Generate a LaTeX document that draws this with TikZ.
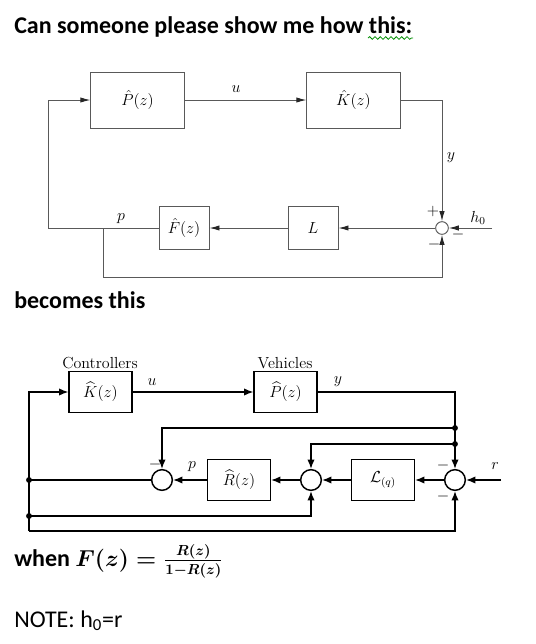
\documentclass[tikz,border=0pt]{standalone}
\usepackage{fontspec}
\newfontfamily\wordfont{Carlito}
\usepackage{amsmath,amssymb}
\usepackage{tikz}
\usetikzlibrary{arrows.meta}
\usetikzlibrary{decorations.pathmorphing}

\begin{document}
\begin{tikzpicture}[x=0.75pt,y=-0.75pt,
  old line/.style={draw=black!65,line width=0.7pt},
  old arrow/.style={old line,-{Latex[length=7.5pt,width=4pt,color=black!85]}},
  old box/.style={old line,rectangle,inner sep=0pt,font=\fontsize{12}{14}\selectfont},
  new line/.style={draw=black,line width=1.1pt},
  new arrow/.style={new line,-{Latex[length=7pt,width=5.5pt]}},
  new box/.style={new line,rectangle,inner sep=0pt,minimum width=47pt,minimum height=31pt,font=\fontsize{12}{14}\selectfont},
  sumjunction/.style={circle,inner sep=0pt,fill=white},
  word/.style={font=\wordfont\fontsize{18}{21}\selectfont,anchor=base west,inner sep=0pt},
  lbl/.style={font=\fontsize{12}{14}\selectfont,inner sep=0pt}]
\useasboundingbox (0,0) rectangle (536,644);

% question
\node[word] (ask) at (14,33) {\bfseries Can someone please show me how this:};
\draw[green!55!black,line width=0.6pt,decorate,decoration={snake,amplitude=1pt,segment length=4pt}] (368,38) -- (413,38);

% old diagram
\node[old box,minimum width=70pt,minimum height=42pt] (P) at (137.5,100) {$\hat P(z)$};
\node[old box,minimum width=70pt,minimum height=42pt] (K) at (353.5,100) {$\hat K(z)$};
\node[old box,minimum width=37.5pt,minimum height=32pt] (F) at (184,228) {$\hat F(z)$};
\node[old box,minimum width=37.5pt,minimum height=32pt] (L) at (313,228) {$L$};
\node[sumjunction,old line,minimum size=9.5pt] (S) at (442,228) {};
\coordinate (hin) at (492,228);
\coordinate (pleft) at (48,228);
\coordinate (pbranch) at (103,228);
\coordinate (pbottom) at (103,277);

\draw[old arrow] (P) -- (K);
\draw[old arrow] (K.east) -| (S.north);
\draw[old arrow] (hin) -- (S.east);
\draw[old arrow] (S.west) -- (L.east);
\draw[old arrow] (L.west) -- (F.east);
\draw[old arrow] (F.west) -- (pleft) |- (P.west);
\draw[old arrow] (pbranch) |- (S.south |- pbottom) -- (S.south);

\node[lbl] (ulbl) at (236,89) {$u$};
\node[lbl] (ylbl) at (451,158) {$y$};
\node[lbl] (plbl) at (121,219) {$p$};
\node[lbl] (hlbl) at (478,218) {$h_0$};
\node[lbl] (plus) at (433,211) {$+$};
\node[lbl] (minA) at (458,234) {$-$};
\node[lbl] (minB) at (434,244) {$-$};

\node[word] (becomes) at (14,308) {\bfseries becomes this};

% new diagram
\node[lbl] (ctrl) at (100,363) {Controllers};
\node[lbl] (veh) at (285,363) {Vehicles};
\node[new box] (K2) at (100.5,392) {$\widehat K(z)$};
\node[new box] (P2) at (285.5,392) {$\widehat P(z)$};
\node[new box] (R2) at (239,480) {$\widehat R(z)$};
\node[new box] (Lq) at (383,480) {$\mathcal{L}_{(q)}$};
\node[sumjunction,new line,minimum size=15.5pt] (S1) at (162,480) {};
\node[sumjunction,new line,minimum size=15.5pt] (S2) at (311,480) {};
\node[sumjunction,new line,minimum size=15.5pt] (S3) at (455,480) {};
\coordinate (rin) at (501,480);
\coordinate (jA) at (29,480);
\coordinate (jB) at (29,516);
\coordinate (jC) at (455,428);
\coordinate (jD) at (455,444);
\coordinate (corner) at (29,531);

\draw[new arrow] (K2) -- (P2);
\draw[new arrow] (P2.east) -| (S3.north);
\draw[new arrow] (rin) -- (S3.east);
\draw[new arrow] (S3.west) -- (Lq.east);
\draw[new arrow] (Lq.west) -- (S2.east);
\draw[new arrow] (S2.west) -- (R2.east);
\draw[new arrow] (R2.west) -- (S1.east);
\draw[new line] (S1.west) -- (jA);
\draw[new arrow] (jC) -| (S1.north);
\draw[new arrow] (jD) -| (S2.north);
\draw[new arrow] (jB) -| (S2.south);
\draw[new arrow] (corner) |- (K2.west);
\draw[new arrow] (corner) -| (S3.south);
\foreach \j in {jA,jB,jC,jD} \fill (\j) circle (2.2pt);

\node[lbl] (u2) at (152,382) {$u$};
\node[lbl] (y2) at (338,382) {$y$};
\node[lbl] (p2) at (192,467) {$p$};
\node[lbl] (r2) at (495,466) {$r$};
\node[lbl] (minC) at (155,464) {$-$};
\node[lbl] (minD) at (443,465) {$-$};
\node[lbl] (minE) at (443,496) {$-$};

% answer text
\node[word] (when) at (14,566) {\bfseries when {\fontsize{16}{19}\selectfont$\boldsymbol{F(z)=\frac{R(z)}{1-R(z)}}$}};
\node[word] (note) at (14,627) {NOTE: h\textsubscript{0}=r};
\end{tikzpicture}
\end{document}
